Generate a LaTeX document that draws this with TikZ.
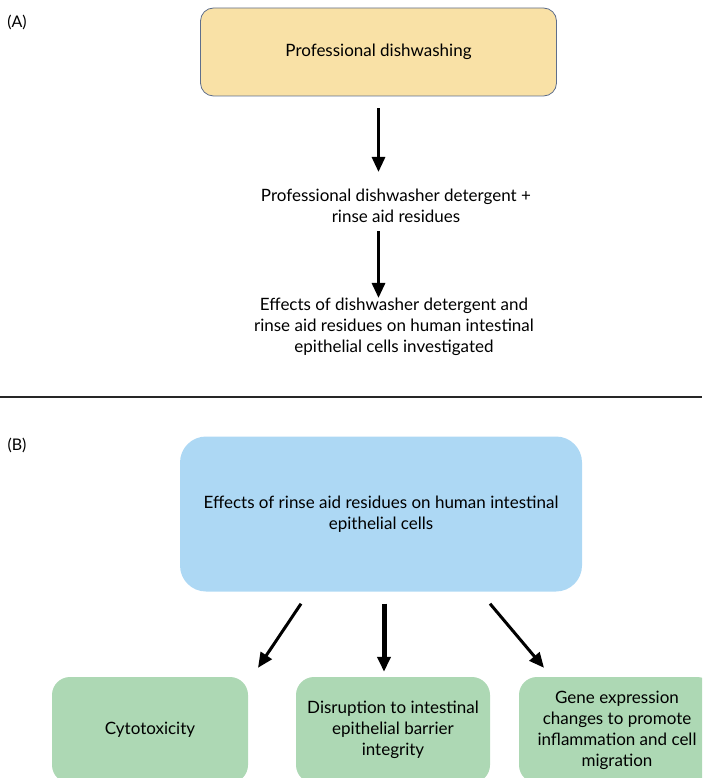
\documentclass[tikz,border=0pt]{standalone}
\usepackage{fontspec}
\setmainfont{Lato}
\usetikzlibrary{arrows.meta,calc}
\definecolor{dishyellow}{HTML}{F9E1A6}
\definecolor{dishedge}{HTML}{5E6E8C}
\definecolor{rinseblue}{HTML}{ADD8F4}
\definecolor{effectgreen}{HTML}{ADD8B4}
\tikzstyle{box}=[rectangle, align=center, inner sep=0pt, anchor=center, font=\fontsize{17}{21}\selectfont]
\tikzstyle{annot}=[align=center, inner sep=0pt, font=\fontsize{17}{21}\selectfont]
\tikzstyle{panel}=[inner sep=0pt, font=\fontsize{16}{18}\selectfont]
\tikzstyle{flow}=[-{Triangle[length=15pt,width=13pt]}, line width=3pt]

\begin{document}
\begin{tikzpicture}[x=1pt,y=-1pt]
	\useasboundingbox (0,0) rectangle (702,778);
	\clip (0,0) rectangle (702,778);

	% (A)
	\node[panel] (labA) at (17,22) {(A)};
	\node[box, fill=dishyellow, draw=dishedge, line width=0.8pt, rounded corners=13pt, minimum width=356pt, minimum height=88pt] (dish) at (378.5,52) {Professional dishwashing};
	\node[annot] (resid) at (396,206) {Professional dishwasher detergent +\\rinse aid residues};
	\node[annot] (impact) at (394,327) {Effects of dishwasher detergent and\\rinse aid residues on human intestinal\\epithelial cells investigated};

	\draw[flow, shorten <=12pt, shorten >=17pt] (dish.south) -- (dish.south |- resid.north);
	\draw[flow, shorten <=8pt] (dish.south |- resid.south) -- (dish.south |- impact.north);

	\draw[line width=2pt, black!85] (0,397) -- (702,397);

	% (B)
	\node[panel] (labB) at (17,445) {(B)};
	\node[box, fill=rinseblue, rounded corners=26pt, minimum width=402pt, minimum height=155pt] (rinse) at (381,514) {Effects of rinse aid residues on human intestinal\\epithelial cells};

	\node[box, fill=effectgreen, rounded corners=18pt, minimum width=196pt, minimum height=106pt] (cyto) at (150,730) {Cytotoxicity};
	\node[box, fill=effectgreen, rounded corners=18pt, minimum width=194pt, minimum height=106pt] (barrier) at (393,730) {Disruption to intestinal\\epithelial barrier\\integrity};
	\node[box, fill=effectgreen, rounded corners=18pt, minimum width=196pt, minimum height=106pt] (genes) at (617,730) {Gene expression\\changes to promote\\inflammation and cell\\migration};

	\draw[flow] ($(rinse.south)+(-80,12)$) -- ($(cyto.north)+(108,-9)$);
	\draw[flow, line width=5pt] ($(rinse.south)+(3,12)$) -- ($(barrier.north)+(-9,-5)$);
	\draw[flow] ($(rinse.south)+(109,12)$) -- ($(genes.north)+(-73,-9)$);

\end{tikzpicture}
\end{document}
